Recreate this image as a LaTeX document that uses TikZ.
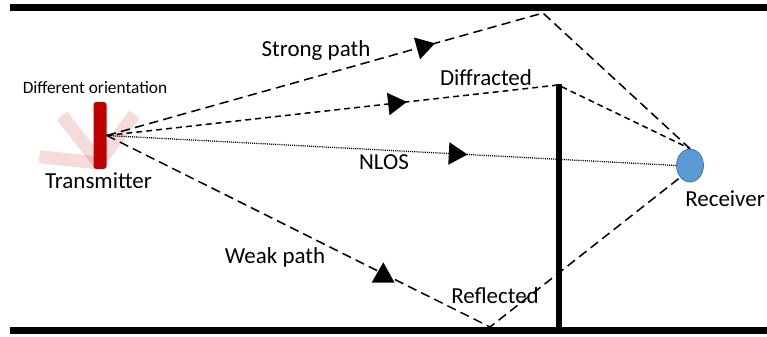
\documentclass[tikz,border=0pt]{standalone}
\usepackage{fontspec}
\setmainfont{Carlito}
\usetikzlibrary{arrows.meta,decorations.markings,shapes.geometric}

\definecolor{txred}{RGB}{192,0,0}
\definecolor{rxblue}{RGB}{91,155,213}
\definecolor{rxedge}{RGB}{65,113,156}

\begin{document}
\begin{tikzpicture}[x=0.03cm,y=-0.03cm,
  wall/.style={line width=6pt},
  thinwall/.style={line width=5pt},
  ray/.style={line width=1.3pt, dash pattern=on 8pt off 4.5pt},
  shortray/.style={line width=1.3pt, dash pattern=on 5pt off 3.5pt},
  dotray/.style={line width=1.1pt, dash pattern=on 0.9pt off 0.9pt},
  tipat/.style={postaction={decorate},
    decoration={markings, mark=at position #1 with {\arrow{Triangle[length=16pt,width=19pt]}}}},
  lbl/.style={font=\fontsize{19.6}{22}\selectfont, anchor=base, inner sep=0pt},
  smalllbl/.style={font=\fontsize{14.8}{17}\selectfont, anchor=base, inner sep=0pt},
  ghost/.style={fill=txred, fill opacity=0.14, draw=none},
]
\useasboundingbox (0,0) rectangle (767,336);

% walls
\draw[wall] (10,7.5) -- (767,7.5);
\draw[wall] (10,330.5) -- (767,330.5);

% alternative orientations of the transmitter
\foreach \ang in {174,128,54}
  \fill[ghost, shift={(99,163)}, rotate=\ang] (0,-6.5) rectangle (60,6.5);

% transmitter and receiver
\node[fill=txred, rounded corners=2.5pt, minimum width=0.39cm, minimum height=2.01cm, inner sep=0pt] (tx) at (100,135.5) {};
\node[ellipse, fill=rxblue, draw=rxedge, line width=0.6pt, minimum width=0.81cm, minimum height=0.99cm, inner sep=0pt] (rx) at (690,165.5) {};

% reflection and diffraction points
\coordinate (ceil) at (543,13);
\coordinate (edge) at (558,85);
\coordinate (floor) at (490,327);

% propagation paths
\draw[ray, tipat=10.23cm] (tx.east) -- (ceil) -- (rx.north);
\draw[shortray, tipat=9.06cm] (tx.east) -- (edge) -- (rx.north);
\draw[dotray, tipat=10.84cm] (tx.east) -- (rx.west);
\draw[ray] (tx.east) -- (floor) -- (rx.south west);
\fill (371.7,282.5) -- (383.3,262.3) -- (394.5,282.5) -- cycle;

% obstacle
\draw[thinwall] (559,84) -- (559,330);

% labels
\node[smalllbl] (orient) at (95,93) {Different orientation};
\node[lbl] (txlbl) at (98.5,188) {Transmitter};
\node[lbl] (rxlbl) at (725,206) {Receiver};
\node[lbl] (strong) at (316,56.5) {Strong path};
\node[lbl] (diffr) at (486,85) {Diffracted};
\node[lbl] (nlos) at (384,169) {NLOS};
\node[lbl] (weak) at (275,263) {Weak path};
\node[lbl] (refl) at (495,303) {Reflected};
\end{tikzpicture}
\end{document}
